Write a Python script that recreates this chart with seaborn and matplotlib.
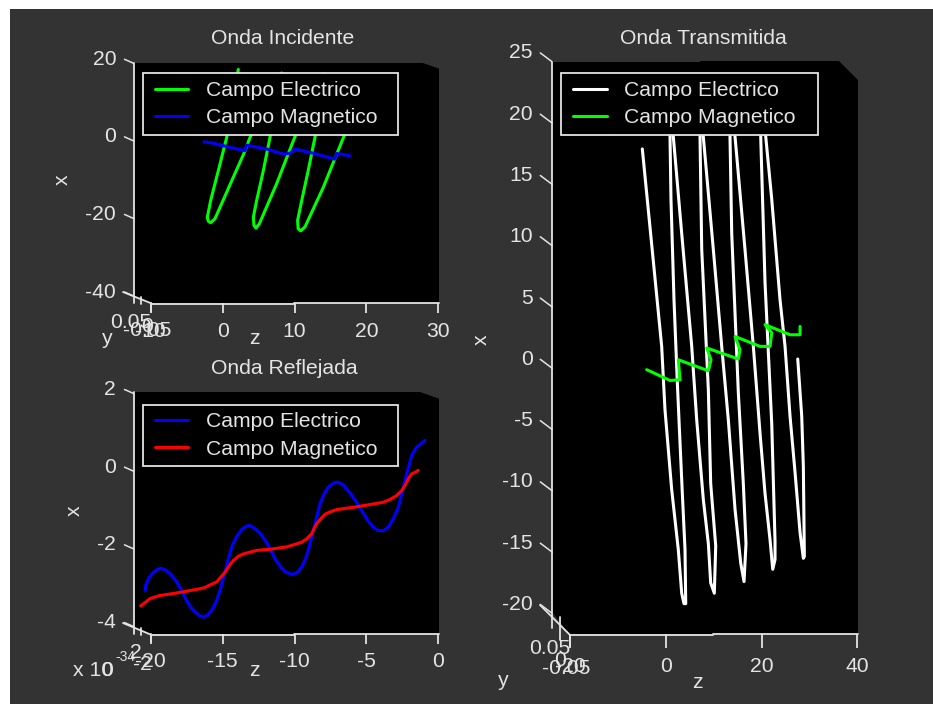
import numpy as np
import pandas as pd
import matplotlib
matplotlib.use('Agg')
import matplotlib.pyplot as plt
import matplotlib.transforms as mtrans
from matplotlib.legend_handler import HandlerLine2D
from matplotlib.lines import Line2D
from matplotlib.patches import Polygon, Rectangle
import seaborn as sns

# Onda Incidente
inc_e_z = [2.18, 1.48, 0.56, -0.60, -1.67, -2.13, -1.99, -1.67, -1.07, 1.48, 3.11, 3.80, 6.12, 8.2,
           6.58, 5.66, 4.73, 4.27, 4.36, 4.64, 5.1, 7.5, 9.83, 11.9, 14.1,
           12.84, 11.9, 11.0, 10.43, 10.5, 10.85, 11.45, 14.0, 16.8, 18.2]
inc_e_x = [18.4, 11.1, 0.85, -7.7, -15.4, -19.7, -20.7, -21.1, -20.1, -9.4, -2.6, 0.85, 9.4, 17.5,
           0.85, -7.7, -15.4, -19.7, -21.8, -22.5, -21.4, -11.1, 0.0, 9.4, 17.3,
           0.85, -7.7, -15.4, -20.5, -22.6, -23.2, -22.2, -12.0, 0.85, 6.8]
inc_h_z = [-2.6, -1.3, 0.19, 3.11, 3.34, 6.12, 8.44, 9.36, 10.06, 12.6, 15.6, 15.86, 17.7]
inc_h_x = [-0.26, -0.6, -1.3, -2.56, -1.1, -2.1, -3.4, -3.2, -2.1, -3.2, -4.7, -3.25, -3.85]

# Onda Reflejada (x 10^-34)
ref_e_z = [-20.39, -20.35, -20.16, -19.86, -19.58, -19.30, -19.00, -18.66, -18.31, -17.96, -17.61, -17.27,
           -16.92, -16.57, -16.34, -16.06, -15.76, -15.46, -15.18, -14.90, -14.60, -14.32, -14.02, -13.67,
           -13.33, -13.09, -12.75, -12.28, -11.82, -11.36, -10.96, -10.59, -10.20, -9.85, -9.50, -9.20,
           -8.92, -8.57, -8.23, -7.93, -7.65, -7.30, -7.02, -6.65, -6.26, -5.79, -5.33, -4.87, -4.52,
           -4.17, -3.82, -3.48, -3.13, -2.78, -2.48, -2.20, -1.85, -1.51, -1.23, -0.93]
ref_e_x = [-3.07, -2.94, -2.77, -2.62, -2.54, -2.50, -2.54, -2.64, -2.79, -3.00, -3.26, -3.48,
           -3.62, -3.73, -3.76, -3.71, -3.58, -3.37, -3.07, -2.68, -2.25, -1.91, -1.68, -1.50,
           -1.41, -1.40, -1.48, -1.65, -1.91, -2.25, -2.47, -2.60, -2.66, -2.62, -2.47, -2.23,
           -1.87, -1.35, -0.84, -0.58, -0.41, -0.31, -0.28, -0.34, -0.51, -0.74, -1.01, -1.29, -1.44,
           -1.53, -1.53, -1.44, -1.23, -0.93, -0.50, -0.07, 0.40, 0.62, 0.70, 0.79]
ref_h_z = [-20.7, -20.05, -19.35, -18.42, -17.5, -16.34, -15.41, -14.83, -14.48, -14.25, -13.9, -13.56, -12.63,
           -11.7, -10.54, -9.5, -9.15, -8.81, -8.46, -8.18, -7.88, -7.53, -7.07, -5.91, -4.75, -3.82, -3.36,
           -2.9, -2.55, -2.32, -2.09, -1.85, -1.62, -1.39]
ref_h_x = [-3.47, -3.28, -3.20, -3.15, -3.09, -3.01, -2.85, -2.60, -2.40, -2.30, -2.19, -2.13, -2.04,
           -2.01, -1.95, -1.83, -1.74, -1.61, -1.35, -1.23, -1.11, -1.05, -0.99, -0.93, -0.86, -0.80, -0.73,
           -0.63, -0.50, -0.37, -0.20, -0.07, -0.03, 0.02]

# Onda Transmitida
tra_e_z = [-4.88, -0.84, -0.15, 1.25, 2.63, 3.34, 3.82, 4.18, 4.03, 3.47, 2.99, 2.43, 1.73, 1.1, 0.9, 1.2,
           1.59, 3.34, 5.43, 6.47, 7.85, 8.9, 9.39, 10.15, 10.44, 9.39, 8.9, 7.52, 7.16, 7.5,
           7.85, 9.94, 11.69, 13.07, 14.47, 15.66, 16.35, 16.76, 16.2, 15.16, 13.78, 13.42, 14.0,
           14.47, 16.55, 18.29, 19.69, 20.73, 21.78, 22.34, 22.82, 22.82, 22.13, 20.73, 19.83, 20.3,
           20.88, 22.13, 23.86, 24.91, 25.95, 27.0, 28.04, 28.73, 28.94, 28.73, 28.39, 27.56]
tra_e_x = [17.9, 1.79, -3.38, -9.9, -14.8, -18.35, -19.2, -19.2, -14.8, -10.2, -6.1, -1.2, 5.6, 13.8, 18.9, 21.5,
           18.9, 11.0, 1.79, -4.2, -10.7, -14.3, -17.5, -18.35, -14.5, -9.4, -1.75, 9.7, 18.9, 21.0,
           18.9, 9.7, 1.79, -4.2, -11.5, -15.9, -17.4, -14.3, -9.4, -2.0, 11.0, 18.9, 20.8,
           18.9, 9.7, 1.79, -5.3, -10.2, -14.0, -16.4, -15.6, -14.1, -4.5, 7.0, 18.9, 20.5,
           18.9, 13.8, 5.6, 1.79, -3.9, -8.5, -13.4, -15.5, -15.35, -8.0, -3.9, 0.76]
tra_h_z = [-3.97, 0.9, 2.99, 2.63, 8.9, 9.46, 8.56, 15.16, 15.51, 14.47, 19.69, 21.78, 22.13, 20.73, 25.95, 28.04, 28.04]
tra_h_x = [-0.11, -0.99, -0.93, 0.7, -0.2, 0.7, 1.66, 0.76, 1.52, 2.6, 1.79, 1.79, 2.9, 3.56, 2.74, 2.74, 3.42]

labels = ['Campo Electrico', 'Campo Magnetico']

W, H = 933, 704
BG = '#333333'
FG = '#e4e4e4'
FS = 15.2

sns.set_theme(style='dark')
plt.rcParams['font.family'] = ['Liberation Sans', 'DejaVu Sans']

fig = plt.figure(figsize=(W / 100, H / 100), dpi=100, facecolor='white')


def fx(px):
    return px / W


def fy(py):
    return 1 - py / H


# all the frame pieces are placed in picture pixels
def seg(x0, y0, x1, y1, lw=1.3):
    fig.add_artist(Line2D([fx(x0), fx(x1)], [fy(y0), fy(y1)], color=FG, lw=lw, zorder=5))


def label(px, py, s, fs=FS, rot=0, ha='center'):
    fig.text(fx(px), fy(py), s, color=FG, fontsize=fs, rotation=rot, ha=ha, va='center', zorder=6)


fig.add_artist(Rectangle((fx(10), 0), 1, fy(9), color=BG, lw=0, zorder=-1))


def panel(box, curves, names, colors, xlim, ylim, xticks, yticks, legend_box, tick_off, xpad, xlen, ypad):
    l, t, r, b = box
    ax = fig.add_axes([fx(l), fy(b), (r - l) / W, (b - t) / H], facecolor='black')
    df = pd.concat([pd.DataFrame({'z': c[0], 'x': c[1], 'campo': n}) for c, n in zip(curves, names)])
    sns.lineplot(data=df, x='z', y='x', hue='campo', hue_order=names, palette=colors,
                 sort=False, estimator=None, lw=2.2, ax=ax)
    ax.set_xlim(xlim)
    ax.set_ylim(ylim)
    ax.set_xlabel('')
    ax.set_ylabel('')
    for s in ax.spines.values():
        s.set_visible(False)
    ax.grid(False)
    ax.set_xticks(xticks)
    ax.set_xticklabels([str(v) for v in xticks], color=FG, fontsize=FS)
    ax.set_yticks(yticks)
    ax.set_yticklabels([str(v) for v in yticks], color=FG, fontsize=FS)
    ax.tick_params(axis='x', bottom=True, length=xlen, width=1.3, color=FG, pad=xpad)
    ax.tick_params(axis='y', left=False, length=0, pad=ypad)
    shift = mtrans.ScaledTranslation(0, (tick_off[1] + 2) / 100, fig.dpi_scale_trans)
    for tl in ax.get_yticklabels():
        tl.set_transform(tl.get_transform() + shift)
    # slanted ticks of the x axis
    for v in yticks:
        ax.annotate('', xy=(0, v), xycoords=('axes fraction', 'data'),
                    xytext=(-tick_off[0], tick_off[1]), textcoords='offset pixels',
                    arrowprops=dict(arrowstyle='-', color=FG, lw=1.1, shrinkA=0, shrinkB=0))
    h, lb = ax.get_legend_handles_labels()
    lx0, ly0, lx1, ly1 = legend_box
    leg = ax.legend(h, lb, loc='upper left', mode='expand', borderaxespad=0,
                    bbox_to_anchor=(fx(lx0), fy(ly0), (lx1 - lx0) / W, 0), bbox_transform=fig.transFigure,
                    fontsize=FS, facecolor='black', edgecolor=FG, framealpha=1, fancybox=False,
                    handlelength=1.8, handletextpad=0.83, labelspacing=0.4, borderpad=0.36,
                    handler_map={Line2D: HandlerLine2D(xpad=0.2)})
    for t_ in leg.get_texts():
        t_.set_color(FG)
    leg.get_frame().set_linewidth(1.3)
    return ax


ax1 = panel((133.5, 62.5, 439, 303), [(inc_e_z, inc_e_x), (inc_h_z, inc_h_x)], labels, ['#00ff00', '#0000ff'],
            (-12.4, 30.1), (-41.8, 20.2), [-10, 0, 10, 20, 30], [-40, -20, 0, 20],
            (142.7, 73.3, 398.3, 135), (9, 4), 7, 7, 12.5)
ax2 = panel((133.5, 392.3, 439, 634.3), [(ref_e_z, ref_e_x), (ref_h_z, ref_h_x)], labels, ['#0000ff', '#ff0000'],
            (-21.2, 0.05), (-4.2, 2.03), [-20, -15, -10, -5, 0], [-4, -2, 0, 2],
            (142.7, 404.5, 398.3, 466.5), (9, 4), 5.5, 7, 12.5)
ax3 = panel((552.3, 60.7, 858.3, 634.3), [(tra_e_z, tra_e_x), (tra_h_z, tra_h_x)], labels, ['#ffffff', '#00ff00'],
            (-23.67, 40.2), (-21.7, 25.1), [-20, 0, 20, 40], [-20, -15, -10, -5, 0, 5, 10, 15, 20, 25],
            (561.3, 73.3, 817.5, 135), (12, 9), 6, 10, 14)

# clipped corners of the box and the frame lines
for pts in ([(420, 62), (440, 62), (440, 69)], [(133, 296), (133, 304), (151, 304)],
            [(420, 392), (440, 392), (440, 399)], [(133, 627), (133, 635), (151, 635)],
            [(838.3, 60), (859, 60), (859, 81)], [(552, 612), (552, 635), (570, 635)],
            [(552, 60), (700, 60), (700, 62), (552, 62)]):
    fig.add_artist(Polygon([(fx(a), fy(c)) for a, c in pts], closed=True, color=BG, lw=0, zorder=4))

seg(133.5, 62.5, 133.5, 303)
seg(123, 292, 151.7, 303.5)
seg(151, 304, 294, 304)
seg(294, 302.5, 439, 302.5)
seg(141, 297, 141, 304)
seg(151, 303, 151, 312)

seg(133.5, 392.3, 133.5, 634)
seg(123, 623, 151.7, 635)
seg(151, 635, 294, 635)
seg(294, 633.5, 439, 633.5)
seg(141, 628, 141, 635)
seg(151, 634, 151, 642)

seg(552.3, 62, 552.3, 628)
seg(540, 605, 570, 635)
seg(570, 635, 713, 635)
seg(713, 633.5, 858, 633.5)
seg(560, 617, 560, 640)
seg(570, 635, 570, 646)

# titles
label(283, 38, 'Onda Incidente')
label(284, 368, 'Onda Reflejada')
label(703, 38, 'Onda Transmitida')

# axis names
label(62, 180, 'x', rot=90)
label(74, 511, 'x', rot=90)
label(481, 340, 'x', rot=90)
label(254, 338, 'z')
label(254, 670, 'z')
label(697, 683, 'z')
label(107, 338, 'y')
label(503, 681, 'y')

# depth axis labels, they pile up on each other in the original too
label(131, 323, '0.05')
label(147, 327, '0')
label(147, 330, '-0.05')

label(73, 671, 'x 10', ha='left')
label(115, 657, '-34', fs=10, ha='left')
label(107, 671, '0')
label(136, 653, '2')
label(142, 664, '-2')

label(550, 648, '0.05')
label(560, 660, '0')
label(566, 669, '-0.05')

fig.savefig('out.png', dpi=100, facecolor='white')
